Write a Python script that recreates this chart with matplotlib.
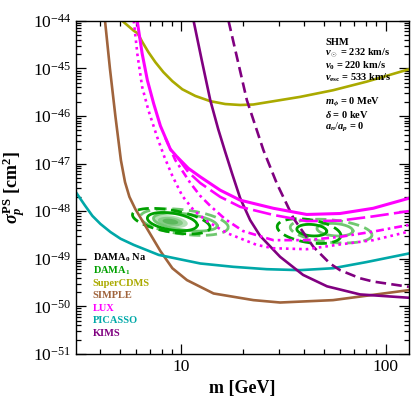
import numpy as np
import matplotlib
matplotlib.use("Agg")
import matplotlib.pyplot as plt
from matplotlib.ticker import FixedLocator, NullFormatter, FuncFormatter

plt.rcParams['font.family'] = 'serif'
plt.rcParams['font.serif'] = ['Liberation Serif']
plt.rcParams['mathtext.fontset'] = 'custom'
plt.rcParams['mathtext.rm'] = 'Liberation Serif'
plt.rcParams['mathtext.it'] = 'Liberation Serif:italic:bold'
plt.rcParams['mathtext.bf'] = 'Liberation Serif:bold'

# curves: mass in GeV, log10 of sigma in cm^2
simple_m = [4.23, 4.47, 4.76, 5.06, 5.30, 5.57, 5.96, 6.67, 7.90, 9.04, 10.66, 14.38, 22.55, 30.45, 55.3, 130]
simple_ls = [-44.0, -45.0, -46.02, -46.93, -47.39, -47.70, -47.96, -48.31, -48.84, -49.20, -49.45, -49.73,
             -49.87, -49.92, -49.87, -49.66]

picasso_m = [3.0, 3.36, 3.67, 4.02, 4.50, 5.04, 5.85, 7.75, 12.38, 17.95, 26.2, 38.1, 55.3, 80.7, 130]
picasso_ls = [-47.56, -47.87, -48.10, -48.27, -48.44, -48.58, -48.71, -48.92, -49.10, -49.17, -49.22, -49.24,
              -49.20, -49.07, -48.89]

cdms_m = [5.13, 5.85, 6.10, 6.45, 6.90, 7.46, 8.17, 9.04, 10.11, 11.71, 13.86, 16.41, 19.42, 22.5, 38.1, 55.3,
          80.7, 130]
cdms_ls = [-44.0, -44.21, -44.26, -44.45, -44.66, -44.87, -45.08, -45.27, -45.44, -45.58, -45.69, -45.75, -45.77,
           -45.76, -45.60, -45.46, -45.28, -45.02]

kims_m = [11.48, 12.59, 13.86, 15.16, 16.41, 17.75, 19.42, 21.73, 24.31, 30.45, 39.45, 51.68, 74.9, 130]
kims_ls = [-44.0, -44.83, -45.67, -46.28, -46.76, -47.22, -47.73, -48.19, -48.52, -48.96, -49.34, -49.58,
           -49.75, -49.82]

kims2_m = [17.02, 20.94, 25.23, 29.35, 35.4, 44.3, 53.4, 59.8, 74.9, 87, 130]
kims2_ls = [-44.0, -45.67, -46.72, -47.42, -48.15, -48.75, -49.10, -49.24, -49.41, -49.48, -49.59]

lux_m = [6.08, 6.43, 6.82, 7.32, 7.90, 8.84, 9.53, 10.82, 12.38, 15.5, 19.42, 28.2, 41.1, 59.8, 87, 130]
lux_ls = [-44.0, -44.69, -45.25, -45.74, -46.21, -46.70, -46.86, -47.10, -47.28, -47.56, -47.77, -47.94, -48.07,
          -48.05, -47.94, -47.73]

lux_dash_m = [9.53, 10.82, 12.38, 15.5, 19.42, 28.2, 41.1, 59.8, 87, 130]
lux_dash_ls = [-46.86, -47.18, -47.41, -47.70, -47.91, -48.08, -48.21, -48.20, -48.11, -48.00]

lux_dd_m = [8.35, 9.35, 11.07, 12.38, 13.86, 16.41, 20.09, 28.2, 41.1, 59.8, 87, 130]
lux_dd_ls = [-46.46, -46.93, -47.41, -47.68, -47.89, -48.17, -48.42, -48.61, -48.61, -48.54, -48.43, -48.29]

lux_dot_m = [5.85, 6.10, 6.43, 6.90, 7.61, 8.26, 9.04, 10.11, 11.49, 13.35, 16.7, 23.4, 28.2, 41.1, 59.8, 87, 130]
lux_dot_ls = [-44.0, -44.72, -45.39, -45.88, -46.44, -46.86, -47.26, -47.68, -47.98, -48.21, -48.46, -48.71,
              -48.78, -48.80, -48.70, -48.61, -48.43]

# DAMA regions: centre mass, centre log10 sigma, half width / half height (decades), tilt
dama_dark_solid = [(9.03, -48.22, 0.122, 0.178, -0.6), (43.5, -48.40, 0.073, 0.12, -0.3)]
dama_dark_dash = [(8.93, -48.21, 0.19, 0.233, -0.7), (42.2, -48.42, 0.156, 0.243, -0.6)]
dama_light_solid = [(10.46, -48.23, 0.156, 0.173, -0.5), (56.5, -48.39, 0.088, 0.13, -0.3)]
dama_light_dash = [(10.34, -48.23, 0.215, 0.258, -0.5), (54.1, -48.42, 0.20, 0.237, -0.4)]
dama_fill = (8.84, -48.22, 0.085, 0.13, -0.5)
fill_levels = [1.0, 0.72, 0.45]
fill_colors = ['#b4e0b4', '#86cc86', '#5cb85c']

y_decades = [-51, -50, -49, -48, -47, -46, -45, -44]
x_major = [10, 100]
x_minor = [4, 5, 6, 7, 8, 9, 20, 30, 40, 50, 60, 70, 80, 90]

legend_names = [r'DAMA$_\mathbf{0}$ Na', r'DAMA$_\mathbf{1}$', 'SuperCDMS', 'SIMPLE', 'LUX', 'PICASSO', 'KIMS']
legend_colors = ['black', '#00a000', '#aaaa00', '#a0643c', '#ff00ff', '#00a8a8', '#800080']
leg_y = [0.279, 0.2415, 0.204, 0.1665, 0.129, 0.0915, 0.054]

info_lines = ['SHM', r'$v_\odot$ = 232 km/s', r'$v_\mathbf{0}$ = 220 km/s', r'$v_\mathbf{esc}$ = 533 km/s',
              r'$m_\phi$ = 0 MeV', r'$\delta$ = 0 keV', r'$a_n/a_p$ = 0']
info_y = [0.927, 0.896, 0.858, 0.821, 0.749, 0.708, 0.674]


def ellipse(mc, lc, a, b, k, s=1.0):
    t = np.linspace(0, 2 * np.pi, 200)
    lx = np.log10(mc) + s * a * np.cos(t)
    ly = lc + s * b * np.sin(t) + k * s * a * np.cos(t)
    return 10 ** lx, 10 ** ly


def curve(m, ls, **kw):
    ax.plot(m, 10.0 ** np.array(ls), solid_joinstyle='round', dash_joinstyle='round', **kw)


fig = plt.figure(figsize=(4.13, 3.99), dpi=100)
ax = fig.add_axes([0.184, 0.113, 0.806, 0.835])

# DAMA
for s, c in zip(fill_levels, fill_colors):
    ex, ey = ellipse(*dama_fill, s=s)
    ax.fill(ex, ey, color=c, lw=0)
dg, lg = '#00a000', '#70c870'
for p in dama_light_dash:
    ax.plot(*ellipse(*p), color=lg, lw=2, dashes=(4, 2))
for p in dama_light_solid:
    ax.plot(*ellipse(*p), color=lg, lw=2)
for p in dama_dark_dash:
    ax.plot(*ellipse(*p), color=dg, lw=2, dashes=(4, 2))
for p in dama_dark_solid:
    ax.plot(*ellipse(*p), color=dg, lw=2)

lw = 1.9
curve(simple_m, simple_ls, color='#a0643c', lw=lw)
curve(picasso_m, picasso_ls, color='#00a8a8', lw=lw)
curve(cdms_m, cdms_ls, color='#aaaa00', lw=lw)
curve(kims_m, kims_ls, color='#800080', lw=lw)
curve(kims2_m, kims2_ls, color='#800080', lw=lw, dashes=(4, 2))
curve(lux_m, lux_ls, color='#ff00ff', lw=2.2)
curve(lux_dash_m, lux_dash_ls, color='#ff00ff', lw=lw, dashes=(7, 2))
curve(lux_dd_m, lux_dd_ls, color='#ff00ff', lw=lw, dashes=(3, 1.5, 1, 1.5))
curve(lux_dot_m, lux_dot_ls, color='#ff00ff', lw=lw, dashes=(1, 1.5))

ax.set_xscale('log')
ax.set_yscale('log')
ax.set_xlim(3.05, 130)
ax.set_ylim(1e-51, 1e-44)
ax.yaxis.set_major_locator(FixedLocator([10.0 ** d for d in y_decades]))
ax.yaxis.set_minor_locator(FixedLocator([s * 10.0 ** d for d in y_decades[:-1] for s in range(2, 10)]))
ax.xaxis.set_major_locator(FixedLocator(x_major))
ax.xaxis.set_minor_locator(FixedLocator(x_minor))
ax.xaxis.set_major_formatter(FuncFormatter(lambda v, p: f'{v:g}'))
ax.yaxis.set_major_formatter(FuncFormatter(lambda v, p: r'$\mathdefault{10^{%d}}$' % round(np.log10(v))))
ax.xaxis.set_minor_formatter(NullFormatter())
ax.yaxis.set_minor_formatter(NullFormatter())
ax.tick_params(which='both', direction='in', top=True, right=True, labelsize=12.5, width=0.9)
ax.tick_params(which='major', length=7)
ax.tick_params(which='minor', length=3.5)
for sp in ax.spines.values():
    sp.set_linewidth(1.0)

ax.set_xlabel('m [GeV]', fontsize=13, fontweight='bold')
ax.set_ylabel(r'$\sigma_p^{\mathbf{PS}}$ [cm$^\mathbf{2}$]', fontsize=13, fontweight='bold')
ax.xaxis.set_label_coords(0.5, -0.078)
ax.yaxis.set_label_coords(-0.145, 0.5)

for t, y in zip(info_lines, info_y):
    ax.text(0.748, y, t, transform=ax.transAxes, fontsize=7.5, fontweight='bold', va='baseline')

for t, c, y in zip(legend_names, legend_colors, leg_y):
    ax.text(0.050, y, t, transform=ax.transAxes, fontsize=7.5, fontweight='bold', color=c, va='baseline')

fig.savefig('out.png', dpi=100)
